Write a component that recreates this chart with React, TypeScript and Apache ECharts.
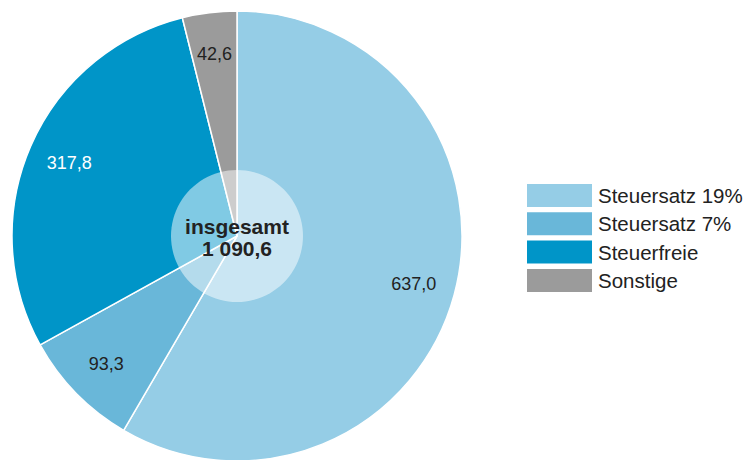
import React, { useEffect, useRef } from "react";
import * as echarts from "echarts";

const categories = ["Steuersatz 19%", "Steuersatz 7%", "Steuerfreie", "Sonstige"];
const values = [637.0, 93.3, 317.8, 42.6];
const colors = ["#95cde6", "#69b7d9", "#0095c8", "#9b9b9b"];
const labelColors = ["#222222", "#222222", "#ffffff", "#222222"];
const totalLabel = ["insgesamt", "1 090,6"];

const fmt = (v: number) => v.toFixed(1).replace(".", ",");

export default function App() {
  const ref = useRef<HTMLDivElement>(null);
  useEffect(() => {
    document.body.style.margin = "0";
    const chart = echarts.init(ref.current!, null, { renderer: "svg" });
    const cx = 237;
    const cy = 236;
    const R = 225;
    chart.setOption({
      animation: false,
      legend: {
        orient: "vertical",
        left: 525,
        top: 182,
        padding: 0,
        itemWidth: 67,
        itemHeight: 25,
        itemGap: 1.3,
        itemTextGap: 13,
        icon: "rect",
        selectedMode: false,
        data: categories,
        textStyle: {
          fontSize: 20.5,
          color: "#222",
          fontFamily: "Liberation Sans",
          lineHeight: 25,
        },
      },
      series: [
        {
          type: "pie",
          center: [cx, cy],
          radius: [0, R],
          startAngle: 90,
          clockwise: true,
          silent: true,
          label: { show: false },
          labelLine: { show: false },
          itemStyle: { borderColor: "#fff", borderWidth: 1.5 },
          data: categories.map((c, i) => ({
            name: c,
            value: values[i],
            itemStyle: { color: colors[i] },
          })),
          z: 1,
        },
        {
          type: "pie",
          center: [cx, cy],
          radius: [0, 66],
          silent: true,
          label: { show: false },
          labelLine: { show: false },
          itemStyle: { color: "rgba(255,255,255,0.5)" },
          data: [{ name: "_inner", value: 1 }],
          z: 2,
        },
        {
          type: "pie",
          center: [cx, cy],
          radius: [135, R],
          startAngle: 90,
          clockwise: true,
          silent: true,
          labelLine: { show: false },
          itemStyle: { color: "transparent", borderWidth: 0 },
          label: {
            show: true,
            position: "inside",
            fontSize: 18,
            fontFamily: "Liberation Sans",
            formatter: (p: any) => fmt(p.value),
          },
          data: categories.map((c, i) => ({
            name: c,
            value: values[i],
            itemStyle: { color: "transparent" },
            label: { color: labelColors[i] },
          })),
          z: 3,
        },
      ],
      graphic: [
        {
          type: "text",
          x: cx,
          y: cy + 1,
          z: 10,
          style: {
            text: totalLabel.join("\n"),
            align: "center",
            verticalAlign: "middle",
            fontSize: 21,
            lineHeight: 22,
            fontWeight: "bold",
            fontFamily: "Liberation Sans",
            fill: "#222",
          },
        },
      ],
    });
    return () => chart.dispose();
  }, []);
  return <div ref={ref} style={{ width: 755, height: 460 }} />;
}
